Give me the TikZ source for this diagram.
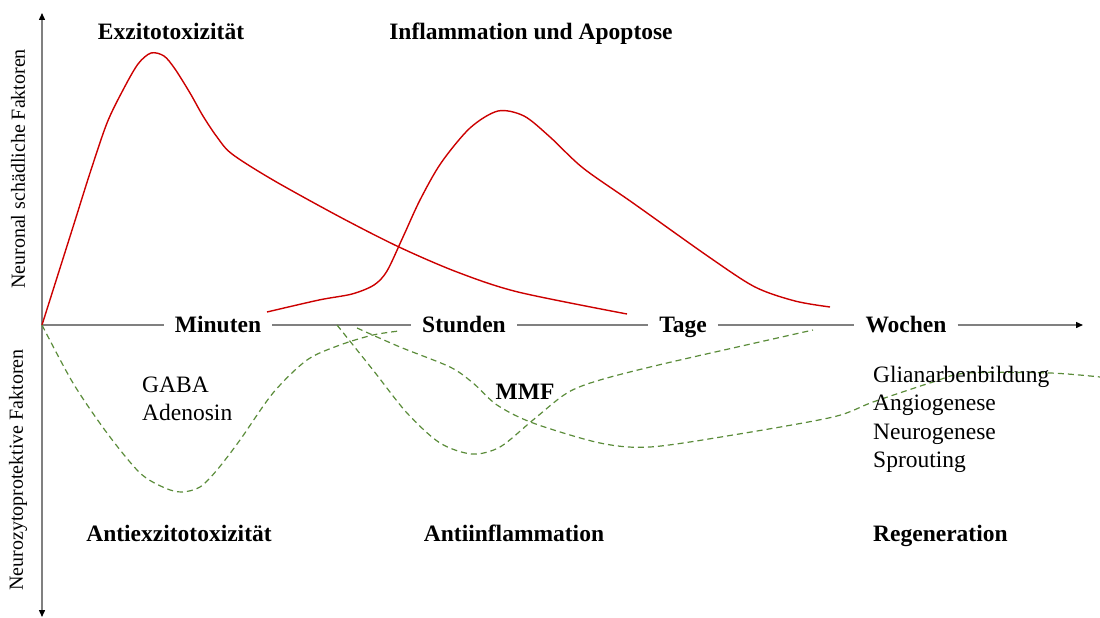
\documentclass[tikz,border=0pt]{standalone}
\usepackage{fontspec}
\setmainfont{Liberation Serif}
\usetikzlibrary{arrows.meta,positioning}
\definecolor{harmred}{HTML}{CC0000}
\definecolor{protgreen}{HTML}{5B8C3A}
\definecolor{axisgray}{HTML}{808080}
\tikzset{
  axisline/.style={draw=axisgray, line width=1.4pt},
  axistip/.style={-{Triangle[length=7pt, width=6pt, color=black]}},
  timelabel/.style={font=\fontsize{23.5}{28}\selectfont\bfseries, inner xsep=11pt, inner ysep=0pt, text height=15.5pt, text depth=0pt},
  phase/.style={font=\fontsize{23.5}{28}\selectfont\bfseries, inner sep=0pt, anchor=base},
  agent/.style={font=\fontsize{23.5}{28}\selectfont, inner sep=0pt, anchor=base west},
  sidelabel/.style={font=\fontsize{20}{24}\selectfont, rotate=90, inner sep=0pt},
  harmful/.style={harmred, line width=1.4pt},
  protective/.style={protgreen, line width=1.2pt, dash pattern=on 6pt off 4pt},
}

\begin{document}
\begin{tikzpicture}[x=1pt, y=-1pt]
  \useasboundingbox (0,0) rectangle (1100,618);
  % axes
  \coordinate (o) at (42,325);
  \coordinate (ytop) at (42,13);
  \coordinate (ybot) at (42,617);
  \coordinate (xend) at (1083,325);
  \node[timelabel] (minuten) at (218,325) {Minuten};
  \node[timelabel] (stunden) at (464,325) {Stunden};
  \node[timelabel] (tage) at (683,325) {Tage};
  \node[timelabel] (wochen) at (906,325) {Wochen};
  \draw[axisline, axistip] (o) -- (ytop);
  \draw[axisline, axistip] (o) -- (ybot);
  \draw[axisline] (o) -- (minuten);
  \draw[axisline] (minuten) -- (stunden);
  \draw[axisline] (stunden) -- (tage);
  \draw[axisline] (tage) -- (wochen);
  \draw[axisline, axistip] (wochen) -- (xend);
  \node[sidelabel] (harmlabel) at (18,169) {Neuronal schädliche Faktoren};
  \node[sidelabel] (protlabel) at (18,470) {Neurozytoprotektive Faktoren};

  % harmful factors
  \draw[harmful] plot[smooth, tension=0.5] coordinates {(42,325) (73,227) (90,173) (107,123) (123,90) (138,64) (151,53) (164,56) (175,69) (190,93) (203,116) (217,137) (232,154) (273,180) (340,217) (399,247) (457,272) (518,292) (627,314)};
  \draw[harmful] plot[smooth, tension=0.5] coordinates {(267,312) (319,300) (352,294) (374,285) (387,271) (403,237) (420,200) (441,163) (470,128) (498,111) (524,116) (550,137) (583,168) (633,203) (709,257) (755,287) (795,301) (830,307)};
  \node[phase] (exzito) at (171,40) {Exzitotoxizität};
  \node[phase] (inflam) at (531,40) {Inflammation und Apoptose};

  % protective factors
  \draw[protective] plot[smooth, tension=0.5] coordinates {(42,325) (73,383) (107,433) (140,473) (165,488) (182,492) (200,487) (217,470) (240,440) (273,393) (307,360) (340,345) (373,335) (399,331)};
  \draw[protective] plot[smooth, tension=0.5] coordinates {(337,325) (373,370) (407,413) (440,443) (472,454) (500,447) (533,420) (567,393) (600,380) (667,363) (813,330)};
  \draw[protective] plot[smooth, tension=0.5] coordinates {(357,328) (400,347) (450,367) (473,383) (497,405) (533,423) (600,443) (650,447) (733,435) (833,417) (873,402) (933,382) (967,373) (1050,373) (1100,377)};

  \node[agent] (gaba) at (142,392) {GABA};
  \node[agent] (adenosin) at ([yshift=-28pt]gaba.base west) {Adenosin};
  \node[phase] (mmf) at (525,399) {MMF};
  \node[agent] (glia) at (873,382) {Glianarbenbildung};
  \node[agent] (angio) at ([yshift=-28.5pt]glia.base west) {Angiogenese};
  \node[agent] (neuro) at ([yshift=-28.5pt]angio.base west) {Neurogenese};
  \node[agent] (sprout) at ([yshift=-28.5pt]neuro.base west) {Sprouting};

  \node[phase] (antiexz) at (179,541) {Antiexzitotoxizität};
  \node[phase] (antiinf) at (514,541) {Antiinflammation};
  \node[phase, anchor=base west] (regen) at (873,541) {Regeneration};
\end{tikzpicture}
\end{document}
